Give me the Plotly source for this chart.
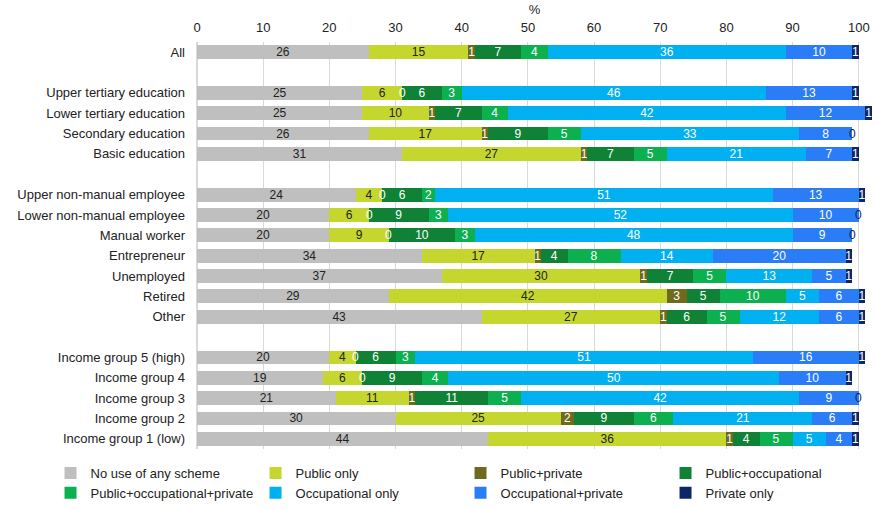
import plotly.graph_objects as go

# Row labels; blank entries separate the groups
rows = [
    "All", " ",
    "Upper tertiary education", "Lower tertiary education", "Secondary education", "Basic education", "  ",
    "Upper non-manual employee", "Lower non-manual employee", "Manual worker", "Entrepreneur",
    "Unemployed", "Retired", "Other", "   ",
    "Income group 5 (high)", "Income group 4", "Income group 3", "Income group 2", "Income group 1 (low)",
]

categories = [r for r in rows if r.strip()]

series_names = [
    "No use of any scheme", "Public only", "Public+private", "Public+occupational",
    "Public+occupational+private", "Occupational only", "Occupational+private", "Private only",
]

no_use = [26, 25, 25, 26, 31, 24, 20, 20, 34, 37, 29, 43, 20, 19, 21, 30, 44]
public_only = [15, 6, 10, 17, 27, 4, 6, 9, 17, 30, 42, 27, 4, 6, 11, 25, 36]
public_private = [1, 0, 1, 1, 1, 0, 0, 0, 1, 1, 3, 1, 0, 0, 1, 2, 1]
public_occ = [7, 6, 7, 9, 7, 6, 9, 10, 4, 7, 5, 6, 6, 9, 11, 9, 4]
public_occ_private = [4, 3, 4, 5, 5, 2, 3, 3, 8, 5, 10, 5, 3, 4, 5, 6, 5]
occ_only = [36, 46, 42, 33, 21, 51, 52, 48, 14, 13, 5, 12, 51, 50, 42, 21, 5]
occ_private = [10, 13, 12, 8, 7, 13, 10, 9, 20, 5, 6, 6, 16, 10, 9, 6, 4]
private_only = [1, 1, 1, 0, 1, 1, 0, 0, 1, 1, 1, 1, 1, 1, 0, 1, 1]

series_values = [no_use, public_only, public_private, public_occ,
                 public_occ_private, occ_only, occ_private, private_only]

colors = ["#BFBFBF", "#C5D72E", "#6E6B1E", "#0F8235", "#0DB04F", "#00B0F0", "#2B7CF7", "#0B2766"]
text_colors = ["#222222", "#222222", "#FFFFFF", "#FFFFFF", "#FFFFFF", "#FFFFFF", "#FFFFFF", "#FFFFFF"]
zero_colors = ["#222222", "#222222", "#FFFFFF", "#FFFFFF", "#FFFFFF", "#FFFFFF", "#FFFFFF", "#0B2766"]

FONT = "Liberation Sans, Arial, sans-serif"

fig = go.Figure()
for name, vals, col, tcol in zip(series_names, series_values, colors, text_colors):
    fig.add_trace(go.Bar(
        name=name,
        y=categories,
        x=vals,
        orientation="h",
        marker=dict(color=col, line=dict(width=0)),
        text=[str(v) for v in vals],
        textposition="inside",
        insidetextanchor="middle",
        textangle=0,
        textfont=dict(color=tcol, size=12, family=FONT),
        width=0.68,
    ))

# Zero-valued segments have no width, so their "0" labels are placed at the segment start
annotations = []
for i, cat in enumerate(categories):
    start = 0
    for vals, zc in zip(series_values, zero_colors):
        if vals[i] == 0:
            annotations.append(dict(
                x=start, y=cat, xref="x", yref="y", text="0", showarrow=False,
                font=dict(color=zc, size=12, family=FONT),
                xanchor="center", yanchor="middle",
            ))
        start += vals[i]

fig.update_layout(
    barmode="stack",
    width=875,
    height=510,
    margin=dict(l=197, r=3, t=42, b=60),
    paper_bgcolor="white",
    plot_bgcolor="white",
    font=dict(family=FONT, size=13, color="#222222"),
    uniformtext=dict(minsize=11, mode="show"),
    annotations=annotations,
    xaxis=dict(
        side="top",
        range=[0, 102],
        tickvals=list(range(0, 101, 10)),
        showgrid=True,
        gridcolor="#D9D9D9",
        gridwidth=1,
        zeroline=True,
        zerolinecolor="#D9D9D9",
        ticks="",
        ticklabelstandoff=6,
        title=dict(text="%", standoff=2, font=dict(size=13)),
        tickfont=dict(size=13),
        fixedrange=True,
    ),
    yaxis=dict(
        type="category",
        categoryorder="array",
        categoryarray=rows,
        autorange="reversed",
        ticks="",
        ticklabelstandoff=11,
        showgrid=False,
        tickfont=dict(size=13),
        tickmode="array",
        tickvals=rows,
        ticktext=[r if r.strip() else "" for r in rows],
    ),
    legend=dict(
        orientation="h",
        xref="paper",
        yref="paper",
        x=-0.217,
        xanchor="left",
        y=-0.142,
        yanchor="bottom",
        entrywidth=160,
        entrywidthmode="pixels",
        traceorder="normal",
        font=dict(size=13),
        itemwidth=30,
        bgcolor="rgba(0,0,0,0)",
    ),
    showlegend=True,
)

fig.write_html("out.html")
